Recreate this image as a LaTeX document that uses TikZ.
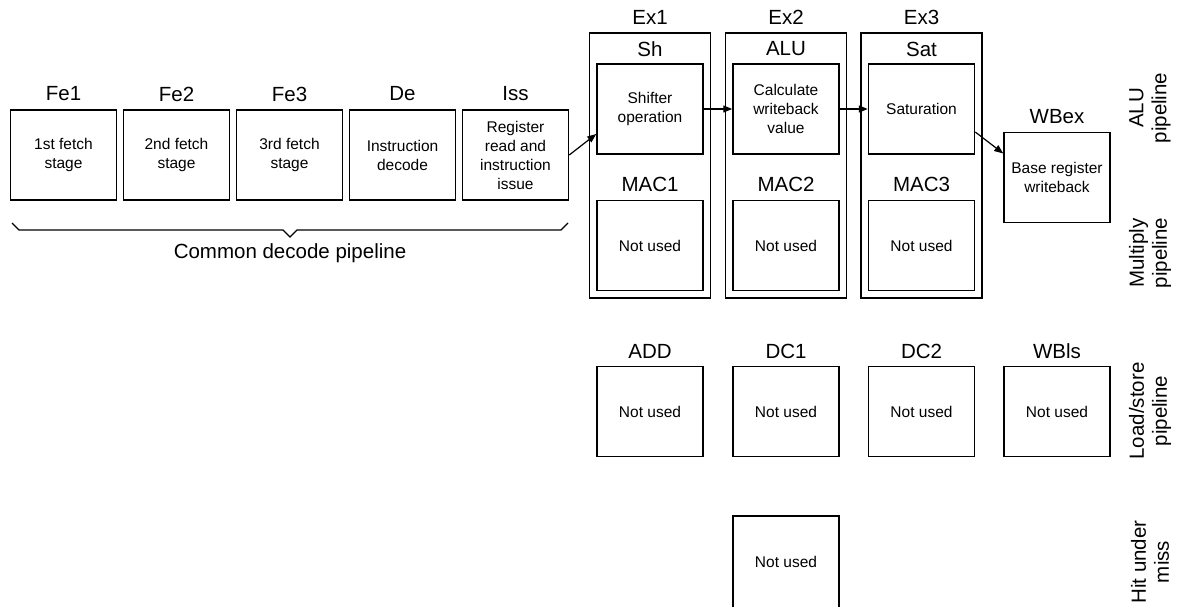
\documentclass[tikz,border=0pt]{standalone}
\usepackage{fontspec}
\setmainfont{Liberation Sans}
\usetikzlibrary{arrows.meta}

\begin{document}
\begin{tikzpicture}[x=1pt,y=-1pt,
  stage/.style={draw,line width=1.5pt,minimum width=106pt,minimum height=90pt,
    inner sep=0pt,align=center,font=\fontsize{15.5}{19}\selectfont},
  frame/.style={draw,line width=1.5pt,minimum width=121pt,minimum height=265pt,inner sep=0pt},
  title/.style={inner sep=0pt,font=\fontsize{20.5}{23}\selectfont},
  side/.style={title,align=center,rotate=90},
  flow/.style={line width=1.2pt,-{Triangle[length=9pt,width=7pt]}}]

\useasboundingbox (0,0) rectangle (1189,607);

% Pipeline comum de descodificacao
\node[title] (fe1lbl) at (63.5,94) {Fe1};
\node[title] (fe2lbl) at (176.5,94) {Fe2};
\node[title] (fe3lbl) at (289.5,94) {Fe3};
\node[title] (delbl) at (402.5,94) {De};
\node[title] (isslbl) at (515.5,94) {Iss};
\node[stage] (fe1) at (63.5,155) {1st fetch\\stage};
\node[stage] (fe2) at (176.5,155) {2nd fetch\\stage};
\node[stage] (fe3) at (289.5,155) {3rd fetch\\stage};
\node[stage] (de) at (402.5,155) {Instruction\\decode};
\node[stage] (iss) at (515.5,155) {Register\\read and\\instruction\\issue};

% Chaveta por baixo
\draw[line width=1.2pt] (12,223) -- (19,230) -- (283,230) -- (290,237) -- (297,230) -- (561,230) -- (568,223);
\node[title] (common) at (290,253) {Common decode pipeline};

% Andares de execucao
\node[frame] (ex1) at (650,165.5) {};
\node[frame] (ex2) at (786,165.5) {};
\node[frame] (ex3) at (921.5,165.5) {};
\node[title] (ex1lbl) at (650,17.5) {Ex1};
\node[title] (ex2lbl) at (786,17.5) {Ex2};
\node[title] (ex3lbl) at (921.5,17.5) {Ex3};

% ALU pipeline
\node[title] (shlbl) at (650,49) {Sh};
\node[title] (alulbl) at (786,49) {ALU};
\node[title] (satlbl) at (921.5,49) {Sat};
\node[stage] (sh) at (650,109) {Shifter\\operation};
\node[stage] (alu) at (786,109) {Calculate\\writeback\\value};
\node[stage] (sat) at (921.5,109) {Saturation};
\node[title] (wbexlbl) at (1057,117) {WBex};
\node[stage] (wbex) at (1057,177.5) {Base register\\writeback};

% Multiply pipeline
\node[title] (mac1lbl) at (650,184) {MAC1};
\node[title] (mac2lbl) at (786,184) {MAC2};
\node[title] (mac3lbl) at (921.5,184) {MAC3};
\node[stage] (mac1) at (650,245.5) {Not used};
\node[stage] (mac2) at (786,245.5) {Not used};
\node[stage] (mac3) at (921.5,245.5) {Not used};

% Load/store pipeline
\node[title] (addlbl) at (650,351.5) {ADD};
\node[title] (dc1lbl) at (786,351.5) {DC1};
\node[title] (dc2lbl) at (921.5,351.5) {DC2};
\node[title] (wblslbl) at (1057,351.5) {WBls};
\node[stage] (add) at (650,411.5) {Not used};
\node[stage] (dc1) at (786,411.5) {Not used};
\node[stage] (dc2) at (921.5,411.5) {Not used};
\node[stage] (wbls) at (1057,411.5) {Not used};

% Hit under miss (cortado em baixo)
\node[stage,minimum height=100pt] (hum) at (786,566) {\raisebox{9pt}{Not used}};

% Setas
\draw[flow] (iss.east) -- ([yshift=-25pt]sh.west);
\draw[flow] (sh.east) -- (alu.west);
\draw[flow] (alu.east) -- (sat.west);
\draw[flow] ([yshift=-23pt]sat.east) -- ([yshift=24pt]wbex.west);

% Nomes dos pipelines
\node[side] (alupipe) at (1150,108) {ALU\\pipeline};
\node[side] (mulpipe) at (1150,253) {Multiply\\pipeline};
\node[side] (lspipe) at (1150,411) {Load/store\\pipeline};
\node[side] (humpipe) at (1150,562) {Hit under\\miss};

\end{tikzpicture}
\end{document}
